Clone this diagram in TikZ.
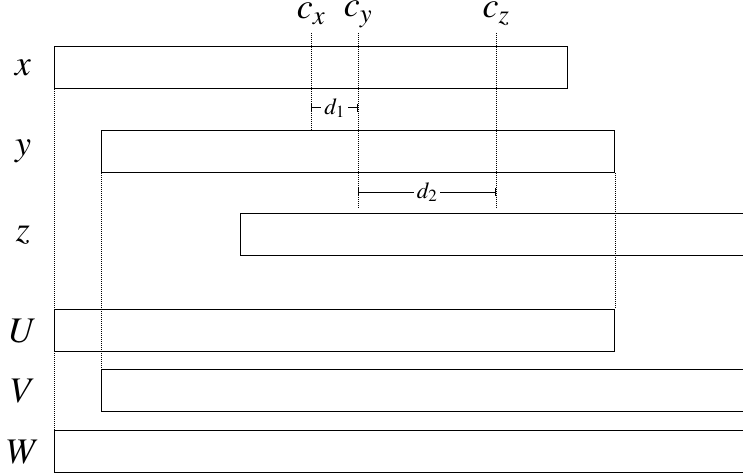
\documentclass[tikz,border=0pt]{standalone}
\usepackage{mathptmx}
\usetikzlibrary{arrows.meta}
\begin{document}
\begin{tikzpicture}[x=1pt,y=-1pt,
	bar/.style={draw,line width=1.4pt,anchor=north west,minimum height=42pt,inner sep=0pt},
	guide/.style={line width=0.9pt,dash pattern=on 0.9pt off 1.1pt},
	lbl/.style={font=\fontsize{36}{40}\selectfont},
	clbl/.style={lbl,anchor=base,inner sep=0pt},
	dist/.style={line width=1pt,{Bar[width=8pt]}-{Bar[width=8pt]}},
	distlbl/.style={font=\fontsize{23}{26}\selectfont,fill=white,inner sep=3pt}]
	\useasboundingbox (0,0) rectangle (743,473);
	\clip (0,0) rectangle (743,473);
	
	\node[bar,minimum width=513pt] (barx) at (54,46) {};
	\node[bar,minimum width=513pt] (bary) at (101,130) {};
	\node[bar,minimum width=560pt] (barz) at (240,213) {};
	\node[bar,minimum width=560pt] (barU) at (54,309) {};
	\node[bar,minimum width=700pt] (barV) at (101,369) {};
	\node[bar,minimum width=750pt] (barW) at (54,430) {};
	
	\foreach \b/\t in {barx/x,bary/y,barz/z,barU/U,barV/V,barW/W}
		\node[lbl] at (23,0 |- \b.west) {$\t$};
	
	\draw[guide] (barx.south west) -- (barW.north west);
	\draw[guide] (bary.south west) -- (barV.north west);
	\draw[guide] (bary.south east) -- (barU.north east);
	
	\coordinate (cx) at (311,33);
	\coordinate (cy) at (358,33);
	\coordinate (cz) at (496,33);
	\draw[guide] (cx) -- (cx |- bary.north);
	\draw[guide] (cy) -- ([yshift=5pt]cy |- barz.north);
	\draw[guide] (cz) -- ([yshift=5pt]cz |- barz.north);
	\node[clbl] at ([yshift=14pt]cx) {$c_x$};
	\node[clbl] at ([yshift=16pt]cy) {$c_y$};
	\node[clbl] at ([yshift=15pt]cz) {$c_z$};
	
	\draw[dist] (cx |- 0,108) -- (cy |- 0,108) node[distlbl,midway] {$d_1$};
	\draw[dist] (cy |- 0,192) -- (cz |- 0,192) node[distlbl,midway] {$d_2$};
\end{tikzpicture}
\end{document}
